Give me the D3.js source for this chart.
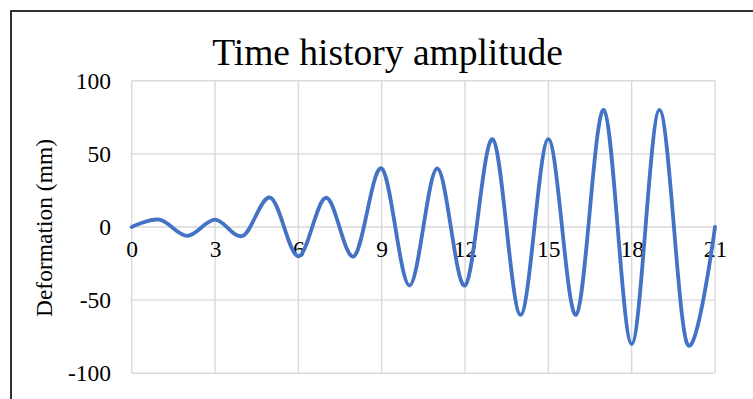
<!DOCTYPE html>
<html>
<head>
<meta charset="utf-8">
<script src="https://cdn.jsdelivr.net/npm/d3@7"></script>
<style>
  html, body { margin: 0; padding: 0; background: #fff; }
  svg { display: block; }
  text { font-family: "Liberation Serif", "Times New Roman", serif; fill: #000; }
</style>
</head>
<body>
<svg id="chart" width="753" height="399"></svg>
<script>
// Time steps (s) and recorded deformation (mm)
const timeSteps = [0, 1, 2, 3, 4, 5, 6, 7, 8, 9, 10, 11, 12, 13, 14, 15, 16, 17, 18, 19, 20, 21];
const deformation = [0, 5, -6, 5, -6, 20, -20, 20, -20, 40, -40, 40, -40, 60, -60, 60, -60, 80, -80, 80, -80, 0];

const xTicks = [0, 3, 6, 9, 12, 15, 18, 21];
const yTicks = [-100, -50, 0, 50, 100];

const chartTitle = "Time history amplitude";
const yAxisTitle = "Deformation (mm)";

const svg = d3.select("#chart");

// Chart frame
svg.append("rect")
  .attr("x", 11).attr("y", 11)
  .attr("width", 800).attr("height", 450)
  .attr("fill", "none")
  .attr("stroke", "#000")
  .attr("stroke-width", 1.6);

const plot = { left: 131.7, right: 715, top: 80.7, bottom: 373.3 };

const x = d3.scaleLinear().domain([0, 21]).range([plot.left, plot.right]);
const y = d3.scaleLinear().domain([-100, 100]).range([plot.bottom, plot.top]);

// Gridlines
const grid = svg.append("g").attr("stroke", "#d9d9d9").attr("stroke-width", 1.4);
grid.selectAll("line.h").data(yTicks).join("line")
  .attr("x1", plot.left).attr("x2", plot.right)
  .attr("y1", d => y(d)).attr("y2", d => y(d));
grid.selectAll("line.v").data(xTicks).join("line")
  .attr("y1", plot.top).attr("y2", plot.bottom)
  .attr("x1", d => x(d)).attr("x2", d => x(d));

const labelFormat = d => String(d);

// Value axis labels
const yAxis = d3.axisLeft(y).tickValues(yTicks).tickSize(0).tickPadding(20.7).tickFormat(labelFormat);
const yg = svg.append("g").attr("transform", `translate(${plot.left},0)`).call(yAxis);
yg.select(".domain").remove();
yg.attr("font-size", null).attr("font-family", null);
yg.selectAll("text").style("font-size", "23.5px").style("font-family", "'Liberation Serif', serif").attr("fill", "#000");

// Time axis labels, crossing at zero
const xAxis = d3.axisBottom(x).tickValues(xTicks).tickSize(0).tickPadding(13).tickFormat(labelFormat);
const xg = svg.append("g").attr("transform", `translate(0,${y(0)})`).call(xAxis);
xg.select(".domain").remove();
xg.attr("font-size", null).attr("font-family", null);
xg.selectAll("text").style("font-size", "23.5px").style("font-family", "'Liberation Serif', serif").attr("fill", "#000");

// Smoothed deformation series
const line = d3.line()
  .x((d, i) => x(timeSteps[i]))
  .y(d => y(d))
  .curve(d3.curveCardinal.tension(0));

svg.append("path")
  .datum(deformation)
  .attr("d", line)
  .attr("fill", "none")
  .attr("stroke", "#4472c4")
  .attr("stroke-width", 3.8)
  .attr("stroke-linejoin", "round")
  .attr("stroke-linecap", "round");

// Titles
svg.append("text")
  .attr("x", 387.5).attr("y", 65)
  .attr("text-anchor", "middle")
  .style("font-size", "37.5px")
  .text(chartTitle);

svg.append("text")
  .attr("transform", `translate(52,228) rotate(-90)`)
  .attr("text-anchor", "middle")
  .style("font-size", "23.5px")
  .text(yAxisTitle);
</script>
</body>
</html>
